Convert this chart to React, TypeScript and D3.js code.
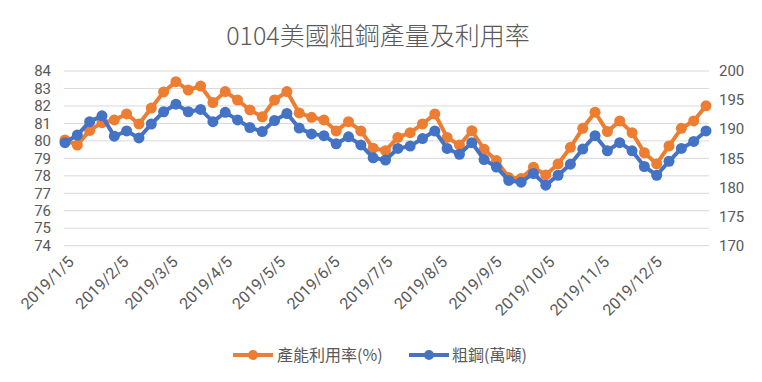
import React from "react";
import * as d3 from "d3";

const weeks: string[] = [
  "2019-01-05","2019-01-12","2019-01-19","2019-01-26","2019-02-02","2019-02-09","2019-02-16","2019-02-23",
  "2019-03-02","2019-03-09","2019-03-16","2019-03-23","2019-03-30","2019-04-06","2019-04-13","2019-04-20",
  "2019-04-27","2019-05-04","2019-05-11","2019-05-18","2019-05-25","2019-06-01","2019-06-08","2019-06-15",
  "2019-06-22","2019-06-29","2019-07-06","2019-07-13","2019-07-20","2019-07-27","2019-08-03","2019-08-10",
  "2019-08-17","2019-08-24","2019-08-31","2019-09-07","2019-09-14","2019-09-21","2019-09-28","2019-10-05",
  "2019-10-12","2019-10-19","2019-10-26","2019-11-02","2019-11-09","2019-11-16","2019-11-23","2019-11-30",
  "2019-12-07","2019-12-14","2019-12-21","2019-12-28","2020-01-04",
];

const utilization: number[] = [
  80.05, 79.76, 80.6, 81.04, 81.2, 81.54, 80.97, 81.88, 82.8, 83.39,
  82.91, 83.14, 82.19, 82.82, 82.34, 81.77, 81.38, 82.34, 82.82, 81.6,
  81.35, 81.2, 80.57, 81.1, 80.57, 79.58, 79.44, 80.2, 80.47, 80.97,
  81.54, 80.2, 79.76, 80.58, 79.52, 78.87, 77.9, 77.85, 78.49, 78.05,
  78.68, 79.63, 80.72, 81.64, 80.53, 81.14, 80.47, 79.32, 78.68, 79.71,
  80.72, 81.14, 82.01,
];

const steel: number[] = [
  187.7, 189.0, 191.3, 192.3, 188.8, 189.7, 188.5, 190.9, 193.0, 194.3,
  193.0, 193.4, 191.3, 192.9, 191.6, 190.3, 189.6, 191.5, 192.7, 190.2,
  189.2, 188.9, 187.5, 188.7, 187.3, 185.1, 184.7, 186.7, 187.1, 188.4,
  189.7, 186.7, 185.7, 187.7, 184.8, 183.5, 181.2, 180.9, 182.4, 180.4,
  182.1, 184.0, 186.6, 188.9, 186.3, 187.7, 186.3, 183.6, 182.1, 184.5,
  186.7, 187.9, 189.7,
];

const monthTicks: string[] = [
  "2019/1/5","2019/2/5","2019/3/5","2019/4/5","2019/5/5","2019/6/5",
  "2019/7/5","2019/8/5","2019/9/5","2019/10/5","2019/11/5","2019/12/5",
];

const leftTicks: number[] = [74, 75, 76, 77, 78, 79, 80, 81, 82, 83, 84];
const rightTicks: number[] = [170, 175, 180, 185, 190, 195, 200];

const title = "0104美國粗鋼產量及利用率";
const seriesNames = ["產能利用率(%)", "粗鋼(萬噸)"];

const ORANGE = "#ED7D31";
const BLUE = "#4472C4";
const TEXT = "#595959";
const GRID = "#D9D9D9";

export default function App() {
  const W = 762, H = 382;
  const parseISO = d3.timeParse("%Y-%m-%d");
  const parseTick = d3.timeParse("%Y/%m/%d");
  const dates = weeks.map((s) => parseISO(s) as Date);

  const x = d3.scaleTime().domain([dates[0], dates[dates.length - 1]]).range([65, 706]);
  const yL = d3.scaleLinear().domain([74, 84]).range([245.7, 71]);
  const yR = d3.scaleLinear().domain([170, 200]).range([245.7, 71]);

  const lineL = d3.line<number>().x((_, i) => x(dates[i])).y((d) => yL(d));
  const lineR = d3.line<number>().x((_, i) => x(dates[i])).y((d) => yR(d));

  const tickFont = "Roboto, 'Noto Sans', sans-serif";
  const cjkFont = "'Noto Sans CJK TC', 'Noto Sans', sans-serif";

  return (
    <svg width={W} height={H} style={{ position: "absolute", left: 0, top: 0, background: "#fff" }}>
      <rect x={0} y={0} width={W} height={H} fill="#fff" />
      <text x={378} y={45} textAnchor="middle" fontFamily={cjkFont} fontSize={25} fontWeight={300} fill={TEXT}>
        {title}
      </text>
      {leftTicks.map((t) => (
        <line key={"g" + t} x1={64} x2={709} y1={yL(t)} y2={yL(t)} stroke={GRID} strokeWidth={1} />
      ))}
      {leftTicks.map((t) => (
        <text key={"l" + t} x={51} y={yL(t)} dy="0.35em" textAnchor="end" fontFamily={tickFont} fontSize={15} fill={TEXT}>
          {t}
        </text>
      ))}
      {rightTicks.map((t) => (
        <text key={"r" + t} x={719} y={yR(t)} dy="0.35em" textAnchor="start" fontFamily={tickFont} fontSize={15} fill={TEXT}>
          {t}
        </text>
      ))}
      {monthTicks.map((t) => {
        const px = x(parseTick(t) as Date);
        return (
          <text key={"x" + t} transform={`translate(${px + 6},${259}) rotate(-45)`} textAnchor="end" dy="0.35em"
            fontFamily={tickFont} fontSize={16} fill={TEXT}>
            {t}
          </text>
        );
      })}
      <path d={lineL(utilization) || ""} fill="none" stroke={ORANGE} strokeWidth={4} strokeLinejoin="round" />
      {utilization.map((v, i) => (
        <circle key={"o" + i} cx={x(dates[i])} cy={yL(v)} r={5.5} fill={ORANGE} />
      ))}
      <path d={lineR(steel) || ""} fill="none" stroke={BLUE} strokeWidth={4} strokeLinejoin="round" />
      {steel.map((v, i) => (
        <circle key={"b" + i} cx={x(dates[i])} cy={yR(v)} r={5.5} fill={BLUE} />
      ))}
      <g>
        <line x1={233} x2={273} y1={355} y2={355} stroke={ORANGE} strokeWidth={4} />
        <circle cx={253} cy={355} r={5} fill={ORANGE} />
        <text x={277} y={355} dy="0.35em" fontFamily={cjkFont} fontSize={16} fill={TEXT}>{seriesNames[0]}</text>
        <line x1={409} x2={449} y1={355} y2={355} stroke={BLUE} strokeWidth={4} />
        <circle cx={429} cy={355} r={5} fill={BLUE} />
        <text x={452} y={355} dy="0.35em" fontFamily={cjkFont} fontSize={16} fill={TEXT}>{seriesNames[1]}</text>
      </g>
    </svg>
  );
}
